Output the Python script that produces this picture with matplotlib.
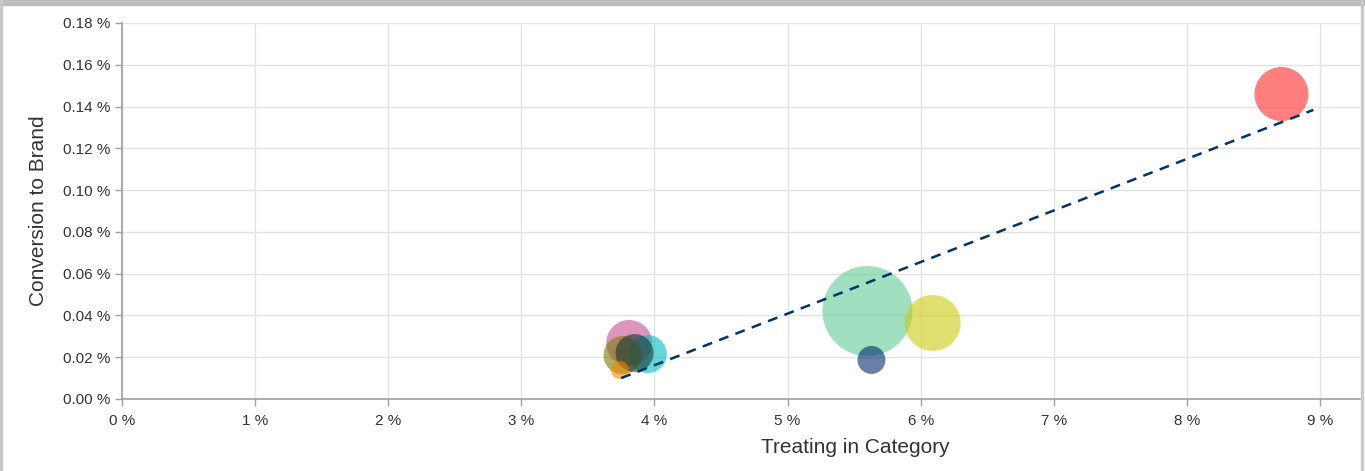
import matplotlib.pyplot as plt
from matplotlib.patches import Rectangle
from matplotlib.ticker import FuncFormatter, MultipleLocator

# treating in category (%), conversion to brand (%), bubble weight
treating = [3.81, 3.95, 3.76, 3.85, 3.74, 5.60, 5.63, 6.09, 8.71]
conversion = [0.0268, 0.0215, 0.0210, 0.0220, 0.0139, 0.0421, 0.0187, 0.0364, 0.1460]
weight = [529, 361, 361, 361, 81, 2025, 196, 784, 729]
colors = ['#c55093', '#00bcbc', '#7a7a00', '#1a3535', '#ee8800',
          '#61cb96', '#002b6e', '#cbcb11', '#ff2a2a']

# trend line end points
trend_x = [3.75, 8.95]
trend_y = [0.0100, 0.1384]

plt.rcParams['font.family'] = ['Liberation Sans', 'DejaVu Sans']


def plot_bubbles(save_path='out.png'):
    fig = plt.figure(figsize=(13.65, 4.71), dpi=100)
    ax = fig.add_axes([122 / 1365, 72 / 471, 1238 / 1365, 376 / 471])

    # weight is proportional to area in px^2 -> points^2 for scatter
    sizes = [(1.44 ** 2) * w for w in weight]
    ax.scatter(treating, conversion, s=sizes, c=colors, alpha=0.6,
               linewidths=0, zorder=3)
    ax.plot(trend_x, trend_y, linestyle=(0, (4, 3)), color='#003366',
            linewidth=1.8, zorder=4)

    ax.set_xlim(0, 9.3)
    ax.set_ylim(0, 0.18)
    ax.xaxis.set_major_locator(MultipleLocator(1))
    ax.yaxis.set_major_locator(MultipleLocator(0.02))
    ax.xaxis.set_major_formatter(FuncFormatter(lambda v, _: '{:.0f} %'.format(v)))
    ax.yaxis.set_major_formatter(FuncFormatter(lambda v, _: '{:.2f} %'.format(v)))

    ax.grid(True, color='#e3e3e3', linewidth=1)
    ax.set_axisbelow(True)
    for side in ('top', 'right'):
        ax.spines[side].set_visible(False)
    for side in ('left', 'bottom'):
        ax.spines[side].set_color('#a0a0a0')
        ax.spines[side].set_linewidth(1.2)
    ax.tick_params(colors='#a0a0a0', labelcolor='#333333', labelsize=11,
                   length=5, width=1)
    ax.tick_params(axis='x', pad=6)

    ax.set_xlabel('Treating in Category', fontsize=15, color='#333333')
    ax.set_ylabel('Conversion to Brand', fontsize=15, color='#333333')
    ax.xaxis.set_label_coords(0.592, -0.104)
    ax.yaxis.set_label_coords(-0.0595, 0.5)

    # panel frame
    fig.patches.append(Rectangle((0, 1 - 5 / 471), 1, 5 / 471, transform=fig.transFigure,
                                 color='#bdbdbd', zorder=0))
    fig.patches.append(Rectangle((0, 0), 2 / 1365, 1, transform=fig.transFigure,
                                 color='#c8c8c8', zorder=0))
    fig.patches.append(Rectangle((1361 / 1365, 0), 2 / 1365, 1, transform=fig.transFigure,
                                 color='#c8c8c8', zorder=0))

    fig.savefig(save_path, dpi=100)


if __name__ == '__main__':
    plot_bubbles()
